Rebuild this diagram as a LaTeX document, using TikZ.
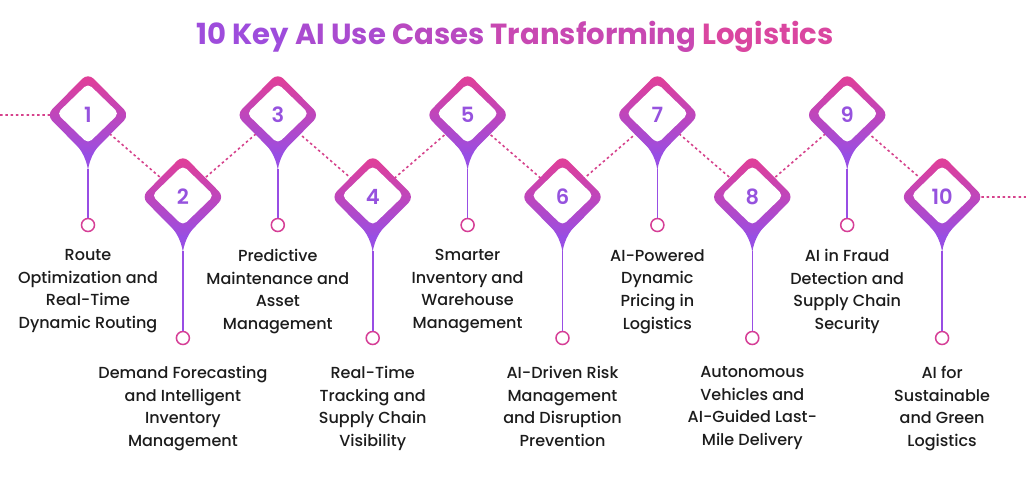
\documentclass[tikz,border=0pt]{standalone}
\usepackage{fontspec}
\setmainfont{Poppins}[UprightFont=*-Medium,BoldFont=*-SemiBold]
\newfontfamily\titlefont{Poppins}[UprightFont=*-Bold]
\usetikzlibrary{calc}
\definecolor{pinkc}{RGB}{228,62,148}
\definecolor{purpc}{RGB}{152,78,228}
\definecolor{numc}{RGB}{150,82,222}
\definecolor{dotc}{RGB}{214,66,140}
\definecolor{ringc}{RGB}{214,62,150}
\definecolor{txtc}{RGB}{28,28,28}
\definecolor{tA}{RGB}{158,76,220}
\definecolor{tB}{RGB}{218,70,160}
\tikzset{
  dotline/.style={dotc, line width=1.6pt, dash pattern=on 2.5pt off 2.8pt},
  stemline/.style={purpc, line width=1.6pt},
  ring/.style={circle, draw=ringc, line width=1.5pt, fill=white, minimum size=13pt, inner sep=0pt},
  numlabel/.style={text=numc, font=\bfseries\fontsize{21}{21}\selectfont, inner sep=0pt},
  desc/.style={text=txtc, align=center, anchor=north, inner sep=0pt, font=\fontsize{16}{22.7}\selectfont},
}
\begin{document}
\begin{tikzpicture}[x=1pt,y=-1pt]
\useasboundingbox (0,0) rectangle (1026,491);
\fill[white] (0,0) rectangle (1026,491);
% title
\node[anchor=base, inner sep=0pt, font=\titlefont\fontsize{29.1}{29.1}\selectfont] (title) at (515,44)
 {\textcolor{tA}{10 Key}\ \textcolor{tA!80!tB}{AI Use}\ \textcolor{tA!55!tB}{Cases}\ \textcolor{tA!30!tB}{Transforming}\ \textcolor{tB}{Logistics}};
% anchor points
\foreach \i in {1,...,10} {
  \pgfmathsetmacro\xx{88+(\i-1)*94.9}
  \ifodd\i
    \coordinate (p\i) at (\xx,115);
  \else
    \coordinate (p\i) at (\xx,197);
  \fi
}
\coordinate (L) at (0,115);
\coordinate (R) at (1026,197);
% dotted connectors
\draw[dotline] (L) -- (p1) -- (p2) -- (p3) -- (p4) -- (p5) -- (p6) -- (p7) -- (p8) -- (p9) -- (p10) -- (R);
% pins
\foreach \i in {1,...,10} {
  \begin{scope}[shift={(p\i)}]
    \fill[purpc] (-22,19.5) .. controls (-8,31) and (-2,42) .. (0,55) .. controls (2,42) and (8,31) .. (22,19.5) -- cycle;
    \shade[top color=pinkc, bottom color=purpc, rounded corners=8pt] (0,-42) -- (41.5,0) -- (0,42) -- (-41.5,0) -- cycle;
    \fill[white, rounded corners=5pt] (0,-31.5) -- (31,-1.5) -- (0,28.5) -- (-31,-1.5) -- cycle;
  \end{scope}
  \node[numlabel] (n\i) at (p\i) {\i};
  \coordinate (t\i) at ($(p\i)+(0,54)$);
  \ifodd\i
    \node[ring] (c\i) at ($(p\i)+(0,110)$) {};
  \else
    \node[ring] (c\i) at ($(p\i)+(0,141)$) {};
  \fi
  \draw[stemline] (t\i) -- (c\i);
}
% descriptions
\node[desc] (d1) at ($(p1)+(0,134)$) {Route\\Optimization and\\Real-Time\\Dynamic Routing};
\node[desc] (d3) at ($(p3)+(0,134)$) {Predictive\\Maintenance and\\Asset\\Management};
\node[desc] (d5) at ($(p5)+(0,134)$) {Smarter\\Inventory and\\Warehouse\\Management};
\node[desc] (d7) at ($(p7)+(0,134)$) {AI-Powered\\Dynamic\\Pricing in\\Logistics};
\node[desc] (d9) at ($(p9)+(0,134)$) {AI in Fraud\\Detection and\\Supply Chain\\Security};
\node[desc] (d2) at ($(p2)+(0,169)$) {Demand Forecasting\\and Intelligent\\Inventory\\Management};
\node[desc] (d4) at ($(p4)+(0,169)$) {Real-Time\\Tracking and\\Supply Chain\\Visibility};
\node[desc] (d6) at ($(p6)+(0,169)$) {AI-Driven Risk\\Management\\and Disruption\\Prevention};
\node[desc] (d8) at ($(p8)+(0,169)$) {Autonomous\\Vehicles and\\AI-Guided Last-\\Mile Delivery};
\node[desc] (d10) at ($(p10)+(0,169)$) {AI for\\Sustainable\\and Green\\Logistics};
\end{tikzpicture}
\end{document}
